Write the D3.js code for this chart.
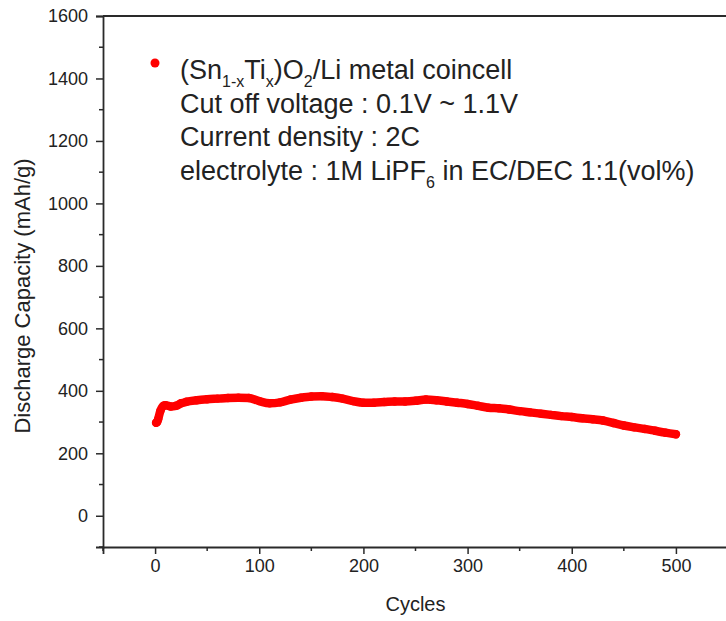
<!DOCTYPE html>
<html>
<head>
<meta charset="utf-8">
<script src="https://cdn.jsdelivr.net/npm/d3@7"></script>
<style>
  html, body { margin: 0; padding: 0; background: #fff; }
  svg { display: block; }
  text { font-family: "Liberation Sans", Arial, sans-serif; fill: #222; }
</style>
</head>
<body>
<div id="chart"></div>
<script>
// ---- data ----
const cycles = [1, 2, 3, 5, 8, 10, 15, 20, 25, 30, 40, 50, 60, 70, 80, 90, 100, 110, 120, 130,
  140, 150, 160, 170, 180, 190, 200, 210, 220, 230, 240, 250, 260, 270, 280, 290, 300,
  310, 320, 330, 340, 350, 360, 370, 380, 390, 400, 410, 420, 430, 440, 450, 460, 470,
  480, 490, 500];
const capacity = [298, 300, 310, 335, 352, 354, 350, 352, 360, 365, 370, 373, 375, 377, 378, 377, 367, 360, 363, 372,
  378, 382, 383, 380, 375, 367, 362, 362, 364, 366, 366, 368, 372, 370, 366, 362, 358,
  352, 346, 344, 340, 335, 331, 327, 323, 319, 316, 312, 309, 305, 297, 289, 283, 278,
  272, 266, 261];
const xTicks = [0, 100, 200, 300, 400, 500];
const xMinor = [-50, 50, 150, 250, 350, 450, 550];
const yTicks = [0, 200, 400, 600, 800, 1000, 1200, 1400, 1600];
const yMinor = [-100, 100, 300, 500, 700, 900, 1100, 1300, 1500];
const xTitle = "Cycles";
const yTitle = "Discharge Capacity (mAh/g)";
const legendLines = [
  [["(Sn", 0], ["1-x", 1], ["Ti", 0], ["x", 1], [")O", 0], ["2", 1], ["/Li metal coincell", 0]],
  [["Cut off voltage : 0.1V ~ 1.1V", 0]],
  [["Current density : 2C", 0]],
  [["electrolyte : 1M LiPF", 0], ["6", 1], [" in EC/DEC 1:1(vol%)", 0]]
];

// ---- layout ----
const W = 726, H = 621;
const x = d3.scaleLinear().domain([-50, 550]).range([103, 728]);
const y = d3.scaleLinear().domain([-100, 1600]).range([547, 16]);
const axisColor = "#2a2a2a";
const red = "#ff0000";

const svg = d3.select("#chart").append("svg").attr("width", W).attr("height", H);

// frame (top and right)
svg.append("line").attr("x1", x(-50)).attr("x2", x(550)).attr("y1", y(1600)).attr("y2", y(1600))
  .attr("stroke", axisColor).attr("stroke-width", 1.8);
svg.append("line").attr("x1", x(550)).attr("x2", x(550)).attr("y1", y(1600)).attr("y2", y(-100))
  .attr("stroke", axisColor).attr("stroke-width", 1.8);

// x axis
const gx = svg.append("g").attr("transform", `translate(0,${y(-100)})`)
  .call(d3.axisBottom(x).tickValues(xTicks).tickSize(7).tickPadding(5).tickFormat(d3.format("d")));
gx.append("g").selectAll("line").data(xMinor).join("line")
  .attr("x1", d => x(d)).attr("x2", d => x(d)).attr("y1", 0).attr("y2", 4)
  .attr("stroke", axisColor).attr("stroke-width", 1.5);

// y axis
const gy = svg.append("g").attr("transform", `translate(${x(-50)},0)`)
  .call(d3.axisLeft(y).tickValues(yTicks).tickSize(7).tickPadding(8).tickFormat(d3.format("d")));
gy.append("g").selectAll("line").data(yMinor).join("line")
  .attr("x1", 0).attr("x2", -4).attr("y1", d => y(d)).attr("y2", d => y(d))
  .attr("stroke", axisColor).attr("stroke-width", 1.5);

[gx, gy].forEach(g => {
  g.select(".domain").attr("stroke", axisColor).attr("stroke-width", 1.8);
  g.selectAll(".tick line").attr("stroke", axisColor).attr("stroke-width", 1.5);
  g.selectAll(".tick text").attr("font-size", 18).attr("fill", "#222")
    .attr("font-family", '"Liberation Sans", Arial, sans-serif');
});

// axis titles
svg.append("text").attr("x", x(250)).attr("y", 611)
  .attr("text-anchor", "middle").attr("font-size", 20).text(xTitle);
svg.append("text").attr("transform", `translate(30,296) rotate(-90)`)
  .attr("text-anchor", "middle").attr("font-size", 22).text(yTitle);

// data
const data = cycles.map((c, i) => ({c, v: capacity[i]}));
svg.append("path").datum(data)
  .attr("fill", "none").attr("stroke", red).attr("stroke-width", 8.5)
  .attr("stroke-linejoin", "round").attr("stroke-linecap", "round")
  .attr("d", d3.line().x(d => x(d.c)).y(d => y(d.v)).curve(d3.curveMonotoneX));
svg.append("g").selectAll("circle").data(data).join("circle")
  .attr("cx", d => x(d.c)).attr("cy", d => y(d.v)).attr("r", 4.2).attr("fill", red);

// legend
svg.append("circle").attr("cx", 155).attr("cy", 63).attr("r", 4.5).attr("fill", red);
const lg = svg.append("g");
legendLines.forEach((line, i) => {
  const t = lg.append("text").attr("x", 180).attr("y", 79 + i * 33.5).attr("font-size", 27);
  let off = 0;
  line.forEach(([s, sub]) => {
    const ts = t.append("tspan").text(s);
    if (sub) { ts.attr("font-size", 16).attr("dy", 8 - off); off = 8; }
    else { ts.attr("dy", -off); off = 0; }
  });
});
</script>
</body>
</html>
